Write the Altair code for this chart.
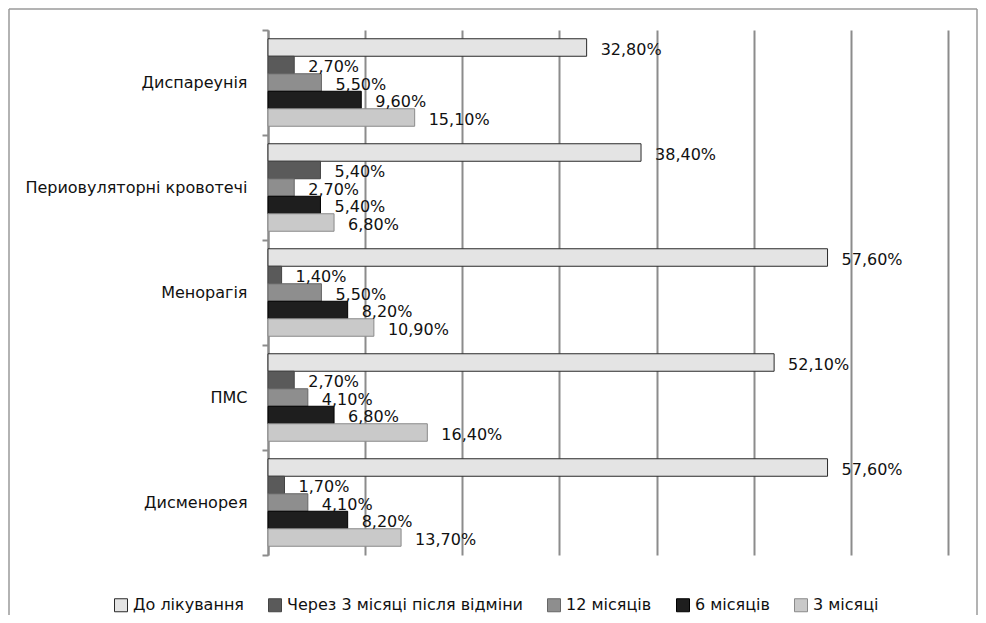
import altair as alt
import pandas as pd

categories = ["Диспареунія", "Периовуляторні  кровотечі", "Менорагія", "ПМС", "Дисменорея"]
series = ["До лікування", "Через 3 місяці після відміни", "12 місяців", "6 місяців", "3 місяці"]
values = {
    "До лікування": [32.8, 38.4, 57.6, 52.1, 57.6],
    "Через 3 місяці після відміни": [2.7, 5.4, 1.4, 2.7, 1.7],
    "12 місяців": [5.5, 2.7, 5.5, 4.1, 4.1],
    "6 місяців": [9.6, 5.4, 8.2, 6.8, 8.2],
    "3 місяці": [15.1, 6.8, 10.9, 16.4, 13.7],
}
colors = ["#e4e4e4", "#5a5a5a", "#8e8e8e", "#1e1e1e", "#c9c9c9"]
strokes = ["#2a2a2a", "#444444", "#666666", "#000000", "#8a8a8a"]

rows = []
for s in series:
    for c, v in zip(categories, values[s]):
        rows.append({"category": c, "series": s, "value": v,
                     "label": f"{v:.2f}".replace(".", ",") + "%"})
df = pd.DataFrame(rows)

FONT = "DejaVu Sans"

y_enc = alt.Y("category:N", sort=categories, title=None,
              scale=alt.Scale(paddingInner=0, paddingOuter=0),
              axis=alt.Axis(labelFont=FONT, labelFontSize=16, labelColor="#111111",
                            labelPadding=15, tickSize=6, tickWidth=2, tickColor="#8c8c8c",
                            domainColor="#8c8c8c", domainWidth=2, tickBand="extent",
                            grid=False, labelLimit=400))
yoff = alt.YOffset("series:N", sort=series,
                   scale=alt.Scale(paddingInner=0, paddingOuter=0.5))
x_enc = alt.X("value:Q", title=None,
              scale=alt.Scale(domain=[0, 70], nice=False),
              axis=alt.Axis(values=[0, 10, 20, 30, 40, 50, 60, 70], labels=False,
                            ticks=False, domain=False, grid=True,
                            gridColor="#8c8c8c", gridWidth=2, gridOpacity=1))

base = alt.Chart(df)

bars = base.mark_bar(strokeWidth=1).encode(
    x=x_enc,
    y=y_enc,
    yOffset=yoff,
    color=alt.Color("series:N", sort=series,
                    scale=alt.Scale(domain=series, range=colors),
                    legend=alt.Legend(title=None, orient="none", direction="horizontal",
                                      legendX=-155, legendY=567, padding=0,
                                      labelFont=FONT, labelFontSize=16, labelColor="#111111",
                                      symbolType="square", symbolSize=169,
                                      symbolStrokeColor="#333333", symbolStrokeWidth=1,
                                      labelOffset=4, columnPadding=22, labelLimit=400)),
    stroke=alt.Stroke("series:N", sort=series,
                      scale=alt.Scale(domain=series, range=strokes), legend=None),
)

labels = base.mark_text(align="left", baseline="middle", dx=14, dy=2,
                        font=FONT, fontSize=16, color="#111111").encode(
    x="value:Q",
    y=alt.Y("category:N", sort=categories),
    yOffset=alt.YOffset("series:N", sort=series),
    text="label:N",
)

one = pd.DataFrame({"a": [0]})
FR = dict(stroke="#9a9a9a", strokeWidth=1.5)
frame_top = alt.Chart(one).mark_rule(**FR).encode(
    x=alt.value(-259), x2=alt.value(709), y=alt.value(-21))
frame_left = alt.Chart(one).mark_rule(**FR).encode(
    x=alt.value(-259), y=alt.value(-21), y2=alt.value(640))
frame_right = alt.Chart(one).mark_rule(**FR).encode(
    x=alt.value(709), y=alt.value(-21), y2=alt.value(640))

chart = alt.layer(frame_top, frame_left, frame_right, bars, labels).properties(
    width=680, height=525,
    autosize=alt.AutoSizeParams(type="none"),
    padding={"left": 260, "top": 22, "right": 30, "bottom": 60},
).configure_view(stroke=None)

chart.save("out.html", embed_options={"renderer": "svg", "actions": False})
